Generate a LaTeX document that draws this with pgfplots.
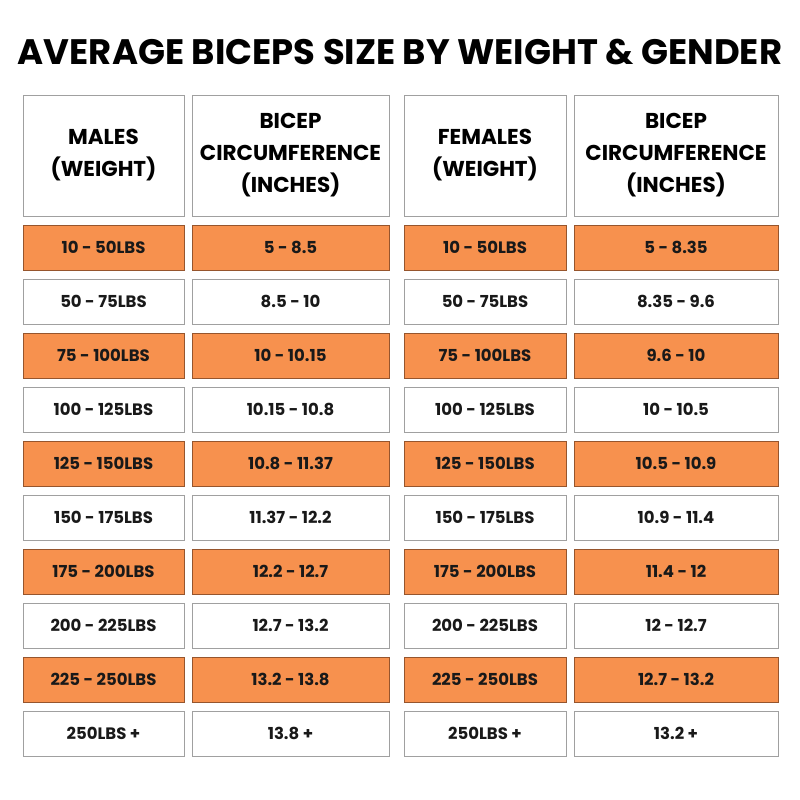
\documentclass[border=0pt]{standalone}
\usepackage{pgfplots}
\pgfplotsset{compat=1.18}
\usepackage{pgfplotstable}
\usepackage{fontspec}
\setmainfont{Poppins}

\definecolor{cellorange}{RGB}{247,145,78}
\definecolor{orangeedge}{RGB}{150,85,45}
\definecolor{greyedge}{RGB}{160,160,160}

% r = row (0 = header), o = 100 for orange rows
\pgfplotstableread{
r o label
1 100 {10 - 50LBS}
2 0 {50 - 75LBS}
3 100 {75 - 100LBS}
4 0 {100 - 125LBS}
5 100 {125 - 150LBS}
6 0 {150 - 175LBS}
7 100 {175 - 200LBS}
8 0 {200 - 225LBS}
9 100 {225 - 250LBS}
10 0 {250LBS +}
}\males

\pgfplotstableread{
r o label
1 100 {5 - 8.5}
2 0 {8.5 - 10}
3 100 {10 - 10.15}
4 0 {10.15 - 10.8}
5 100 {10.8 - 11.37}
6 0 {11.37 - 12.2}
7 100 {12.2 - 12.7}
8 0 {12.7 - 13.2}
9 100 {13.2 - 13.8}
10 0 {13.8 +}
}\malebicep

\pgfplotstableread{
r o label
1 100 {10 - 50LBS}
2 0 {50 - 75LBS}
3 100 {75 - 100LBS}
4 0 {100 - 125LBS}
5 100 {125 - 150LBS}
6 0 {150 - 175LBS}
7 100 {175 - 200LBS}
8 0 {200 - 225LBS}
9 100 {225 - 250LBS}
10 0 {250LBS +}
}\females

\pgfplotstableread{
r o label
1 100 {5 - 8.35}
2 0 {8.35 - 9.6}
3 100 {9.6 - 10}
4 0 {10 - 10.5}
5 100 {10.5 - 10.9}
6 0 {10.9 - 11.4}
7 100 {11.4 - 12}
8 0 {12 - 12.7}
9 100 {12.7 - 13.2}
10 0 {13.2 +}
}\femalebicep

\pgfplotstableread{
x w label
103.5 161 {MALES\\(WEIGHT)}
290.5 197 {BICEP\\CIRCUMFERENCE\\(INCHES)}
485 162 {FEMALES\\(WEIGHT)}
676 204 {BICEP\\CIRCUMFERENCE\\(INCHES)}
}\header

\begin{document}
\begin{tikzpicture}
\begin{axis}[
  scale only axis,
  width=800pt, height=800pt,
  xmin=0, xmax=800, ymin=0, ymax=800,
  y dir=reverse,
  hide axis, clip=false,
  cell/.style={
    only marks, mark=none,
    point meta=explicit symbolic,
    nodes near coords,
    visualization depends on={\thisrow{o}\as\co},
    every node near coord/.append style={
      anchor=center, inner sep=0pt, line width=1pt,
      minimum width=#1pt, minimum height=45pt,
      fill=cellorange!\co!white, draw=orangeedge!\co!greyedge,
      font=\fontsize{16.5}{19}\selectfont\bfseries, text=black!90},
  },
]
\path[use as bounding box] (rel axis cs:0,0) rectangle (rel axis cs:1,1);
% header row
\addplot[only marks, mark=none, point meta=explicit symbolic, nodes near coords,
  visualization depends on={\thisrow{w}\as\cw},
  every node near coord/.append style={
    anchor=center, inner sep=0pt, line width=1pt, align=center,
    minimum width=\cw pt, minimum height=121pt,
    fill=white, draw=greyedge,
    font=\fontsize{21.5}{32}\selectfont\bfseries, text=black}]
  table[x=x, y expr=155.5, meta=label] {\header};

\addplot[cell=161] table[x expr=103.5, y expr=193.5+54*\thisrow{r}, meta=label] {\males};
\addplot[cell=197] table[x expr=290.5, y expr=193.5+54*\thisrow{r}, meta=label] {\malebicep};
\addplot[cell=162] table[x expr=485, y expr=193.5+54*\thisrow{r}, meta=label] {\females};
\addplot[cell=204] table[x expr=676, y expr=193.5+54*\thisrow{r}, meta=label] {\femalebicep};

\node[font=\fontsize{35.4}{40}\selectfont\bfseries] at (axis cs:400,52)
  {AVERAGE BICEPS SIZE BY WEIGHT \& GENDER};
\end{axis}
\end{tikzpicture}
\end{document}
